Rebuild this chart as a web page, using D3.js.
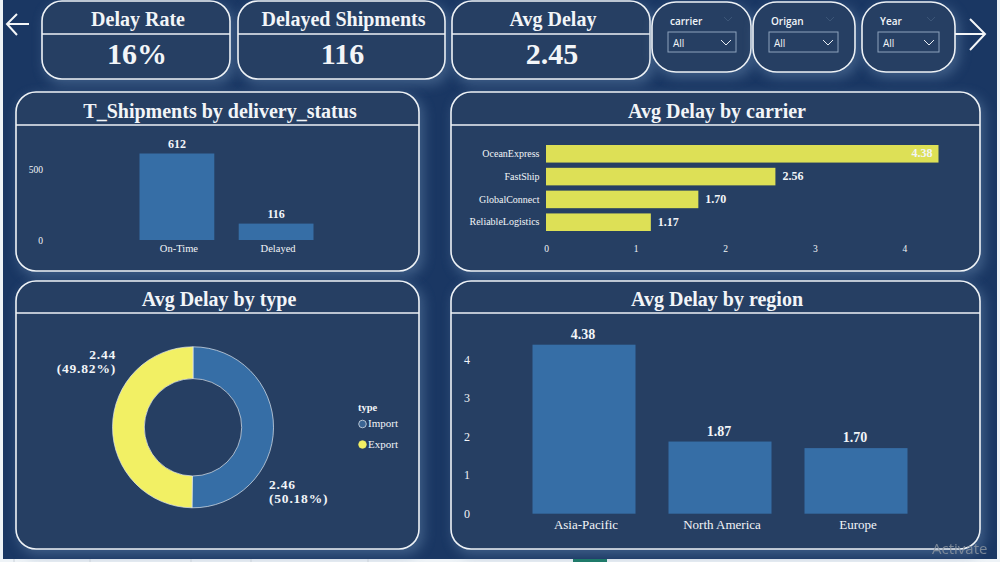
<!DOCTYPE html>
<html>
<head>
<meta charset="utf-8">
<script src="https://cdn.jsdelivr.net/npm/d3@7"></script>
<style>
  html, body { margin: 0; padding: 0; background: #eef3f7; overflow: hidden; }
  text { font-family: "Liberation Serif", serif; fill: #f2f5f8; }
  .ui text { font-family: "Open Sans", sans-serif; }
</style>
</head>
<body>
<div id="chart"></div>
<script>
// Data
const kpiLabels = ["Delay Rate", "Delayed Shipments", "Avg Delay"];
const kpiValues = ["16%", "116", "2.45"];
const slicerLabels = ["carrier", "Origan", "Year"];

const statusNames = ["On-Time", "Delayed"];
const statusCounts = [612, 116];
const statusTicks = [0, 500];

const carrierNames = ["OceanExpress", "FastShip", "GlobalConnect", "ReliableLogistics"];
const carrierDelays = [4.38, 2.56, 1.70, 1.17];
const carrierTicks = [0, 1, 2, 3, 4];

const typeNames = ["Import", "Export"];
const typeDelays = [2.46, 2.44];
const typePercents = ["50.18%", "49.82%"];

const regionNames = ["Asia-Pacific", "North America", "Europe"];
const regionDelays = [4.38, 1.87, 1.70];
const regionTicks = [0, 1, 2, 3, 4];

const blue = "#366ea6", yellow = "#dde056", donutYellow = "#f2f064",
  panelFill = "#263f63", navy = "#1a3763", line = "#eef2f6";

const svg = d3.select("#chart").append("svg")
  .attr("width", 1000)
  .attr("height", 562)
  .style("display", "block");

const defs = svg.append("defs");
defs.append("filter").attr("id", "glow")
  .attr("x", "-15%").attr("y", "-25%").attr("width", "130%").attr("height", "150%")
  .append("feGaussianBlur").attr("stdDeviation", 6);

// page background
svg.append("rect").attr("x", 3).attr("y", 0).attr("width", 994).attr("height", 559).attr("fill", navy);

// panel with a title strip, soft glow behind it
function panel(x, y, w, h, r, dividerY, fill) {
  const g = svg.append("g");
  g.append("rect").attr("x", x + 2).attr("y", y + 3).attr("width", w + 3).attr("height", h + 3).attr("rx", r)
    .attr("fill", "#55759c").attr("opacity", 0.6).attr("filter", "url(#glow)");
  g.append("rect").attr("x", x).attr("y", y).attr("width", w).attr("height", h).attr("rx", r)
    .attr("fill", fill || panelFill).attr("stroke", line).attr("stroke-width", 1.6);
  if (dividerY) {
    g.append("line").attr("x1", x).attr("x2", x + w).attr("y1", dividerY).attr("y2", dividerY)
      .attr("stroke", line).attr("stroke-width", 1.6);
  }
  return g;
}

function title(cx, y, label) {
  svg.append("text").attr("x", cx).attr("y", y).attr("text-anchor", "middle")
    .attr("font-size", 20).attr("font-weight", "bold").text(label);
}

// KPI cards
const kpiBoxes = [[42, 188], [238, 207], [452, 198]];
kpiLabels.forEach((label, i) => {
  const [x, w] = kpiBoxes[i];
  panel(x, 1, w, 78, 20, 34);
  svg.append("text").attr("x", x + w / 2 + 2).attr("y", 26).attr("text-anchor", "middle")
    .attr("font-size", 20).attr("font-weight", "bold").text(label);
  svg.append("text").attr("x", x + w / 2 + 1).attr("y", 64).attr("text-anchor", "middle")
    .attr("font-size", 30).attr("font-weight", "bold").text(kpiValues[i]);
});

// Slicers
const slicerBoxes = [[652, 99, 668, 68], [753, 102, 769, 69], [862, 93, 878, 61]];
slicerLabels.forEach((label, i) => {
  const [x, w, bx, bw] = slicerBoxes[i];
  panel(x, 2, w, 70, 24, null);
  const s = svg.append("g").attr("class", "ui");
  s.append("text").attr("x", bx + 2).attr("y", 25).attr("font-size", 10).attr("font-weight", 600).attr("fill", "#e8edf2").text(label);
  s.append("rect").attr("x", bx).attr("y", 32).attr("width", bw).attr("height", 20)
    .attr("fill", "none").attr("stroke", "#8da3bd").attr("stroke-width", 1);
  s.append("text").attr("x", bx + 5).attr("y", 47).attr("font-size", 10).attr("fill", "#dfe6ee").text("All");
  s.append("path").attr("d", `M${bx + bw - 15},40 l5,5 l5,-5`)
    .attr("fill", "none").attr("stroke", "#e8edf2").attr("stroke-width", 1);
  s.append("path").attr("d", `M${bx + bw - 12},17 l4,4 l4,-4`)
    .attr("fill", "none").attr("stroke", "#3c5678").attr("stroke-width", 1);
});

// Nav arrows
svg.append("path").attr("d", "M29,24 L7,24 M17,14 L7,24 L17,35")
  .attr("fill", "none").attr("stroke", "#f4f6f8").attr("stroke-width", 2);
svg.append("path").attr("d", "M955,34 L985,34 M970,19 L985,34 L970,50")
  .attr("fill", "none").attr("stroke", "#f4f6f8").attr("stroke-width", 2);

// Chart panels
panel(16, 92, 403, 179, 20, 125);
panel(451, 92, 529, 179, 20, 125);
panel(16, 281, 403, 268, 20, 313);
panel(451, 281, 529, 268, 20, 313);
title(220, 118, "T_Shipments by delivery_status");
title(717, 118, "Avg Delay by carrier");
title(219, 306, "Avg Delay by type");
title(717, 306, "Avg Delay by region");

function styleAxis(g, size) {
  g.select(".domain").remove();
  g.selectAll(".tick line").remove();
  g.selectAll("text").attr("font-size", size).attr("fill", "#e6ebf1");
}

// T_Shipments by delivery_status
const statusX = d3.scaleBand().domain(statusNames).range([139.5, 313.5]).paddingInner(0.246).paddingOuter(0);
const statusY = d3.scaleLinear().domain([0, 612]).range([240, 153.5]);

svg.append("g").selectAll("rect").data(statusCounts).join("rect")
  .attr("x", (d, i) => statusX(statusNames[i]))
  .attr("y", d => statusY(d))
  .attr("width", statusX.bandwidth())
  .attr("height", d => statusY(0) - statusY(d))
  .attr("fill", blue);
svg.append("g").selectAll("text").data(statusCounts).join("text")
  .attr("x", (d, i) => statusX(statusNames[i]) + statusX.bandwidth() / 2)
  .attr("y", d => statusY(d) - 6)
  .attr("text-anchor", "middle").attr("font-size", 12).attr("font-weight", "bold").text(d => d);
svg.append("g").attr("transform", "translate(43,0)")
  .call(d3.axisLeft(statusY).tickValues(statusTicks).tickSize(0).tickPadding(0))
  .call(styleAxis, 9.5);
svg.append("g").attr("transform", "translate(2,245)")
  .call(d3.axisBottom(statusX).tickSize(0).tickPadding(0))
  .call(styleAxis, 10.5);

// Avg Delay by carrier
const carrierX = d3.scaleLinear().domain([0, 4.38]).range([546, 938.5]);
const carrierY = d3.scaleBand().domain(carrierNames).range([145, 231]).paddingInner(0.23).paddingOuter(0);

svg.append("g").selectAll("rect").data(carrierDelays).join("rect")
  .attr("x", carrierX(0))
  .attr("y", (d, i) => carrierY(carrierNames[i]))
  .attr("width", d => carrierX(d) - carrierX(0))
  .attr("height", carrierY.bandwidth())
  .attr("fill", yellow);
svg.append("g").selectAll("text").data(carrierDelays).join("text")
  .attr("x", (d, i) => i === 0 ? carrierX(d) - 6 : carrierX(d) + 7)
  .attr("y", (d, i) => carrierY(carrierNames[i]) + carrierY.bandwidth() / 2 + 3.5)
  .attr("text-anchor", (d, i) => i === 0 ? "end" : "start")
  .attr("font-size", 12).attr("font-weight", "bold")
  .attr("fill", "#f7f8e8")
  .text(d => d.toFixed(2));
svg.append("g").attr("transform", "translate(539.5,0)")
  .call(d3.axisLeft(carrierY).tickSize(0).tickPadding(0))
  .call(styleAxis, 10);
svg.append("g").attr("transform", "translate(0,245)")
  .call(d3.axisBottom(carrierX).tickValues(carrierTicks).tickFormat(d3.format("d")).tickSize(0).tickPadding(0))
  .call(styleAxis, 9.5);

// Avg Delay by type
const donutR = 80.5, donutInner = 48.7, donutCx = 193, donutCy = 427.3;
const pie = d3.pie().sort(null);
const arc = d3.arc().innerRadius(donutInner).outerRadius(donutR);
const typeColor = d3.scaleOrdinal().domain(typeNames).range([blue, donutYellow]);

svg.append("g").attr("transform", `translate(${donutCx},${donutCy})`)
  .selectAll("path").data(pie(typeDelays)).join("path")
  .attr("d", arc)
  .attr("fill", (d, i) => typeColor(typeNames[i]))
  .attr("stroke", "#dfe6ee").attr("stroke-width", 0.7);

const typeLabelPos = [[269, 489, "start"], [116, 359, "end"]];
typeDelays.forEach((d, i) => {
  const [x, y, anchor] = typeLabelPos[i];
  const t = svg.append("text").attr("text-anchor", anchor).attr("font-size", 13.5)
    .attr("letter-spacing", 0.8).attr("font-weight", "bold");
  t.append("tspan").attr("x", x).attr("y", y).text(d.toFixed(2));
  t.append("tspan").attr("x", x).attr("y", y + 14).text("(" + typePercents[i] + ")");
});

svg.append("text").attr("x", 358).attr("y", 411).attr("font-size", 10.5).attr("font-weight", "bold").text("type");
typeNames.forEach((name, i) => {
  const y = 424 + i * 20.5;
  svg.append("circle").attr("cx", 362.5).attr("cy", y).attr("r", 3.8)
    .attr("fill", i === 0 ? "#3a6493" : donutYellow)
    .attr("stroke", i === 0 ? "#d5dde6" : donutYellow).attr("stroke-width", 0.8);
  svg.append("text").attr("x", 368).attr("y", y + 3).attr("font-size", 11).attr("fill", "#e6ebf1").text(name);
});

// Avg Delay by region
const regionX = d3.scaleBand().domain(regionNames).range([532.5, 907.5]).paddingInner(0.2426).paddingOuter(0);
const regionY = d3.scaleLinear().domain([0, 4.38]).range([513.7, 344.7]);

svg.append("g").selectAll("rect").data(regionDelays).join("rect")
  .attr("x", (d, i) => regionX(regionNames[i]))
  .attr("y", d => regionY(d))
  .attr("width", regionX.bandwidth())
  .attr("height", d => regionY(0) - regionY(d))
  .attr("fill", blue);
svg.append("g").selectAll("text").data(regionDelays).join("text")
  .attr("x", (d, i) => regionX(regionNames[i]) + regionX.bandwidth() / 2 - 1)
  .attr("y", d => regionY(d) - 6)
  .attr("text-anchor", "middle").attr("font-size", 14).attr("font-weight", "bold").text(d => d.toFixed(2));
svg.append("g").attr("transform", "translate(470,0)")
  .call(d3.axisLeft(regionY).tickValues(regionTicks).tickFormat(d3.format("d")).tickSize(0).tickPadding(0))
  .call(styleAxis, 12);
svg.append("g").attr("transform", "translate(2,520)")
  .call(d3.axisBottom(regionX).tickSize(0).tickPadding(0))
  .call(styleAxis, 13);

// Bits of the screenshot: taskbar strip and watermark
svg.append("rect").attr("x", 573).attr("y", 559).attr("width", 34).attr("height", 3).attr("fill", "#1f7a6a");
svg.append("g").selectAll("line").data([14, 90, 191, 251, 368]).join("line")
  .attr("x1", d => d).attr("x2", d => d).attr("y1", 559).attr("y2", 562)
  .attr("stroke", "#c9d0d8").attr("stroke-width", 1);
svg.append("text").attr("x", 932).attr("y", 554).attr("font-size", 15)
  .style("font-family", "'Open Sans', sans-serif").style("fill", "#8a94a0").attr("opacity", 0.85).text("Activate");
svg.append("rect").attr("x", 997).attr("y", 0).attr("width", 3).attr("height", 562).attr("fill", "#eef3f7");
</script>
</body>
</html>
